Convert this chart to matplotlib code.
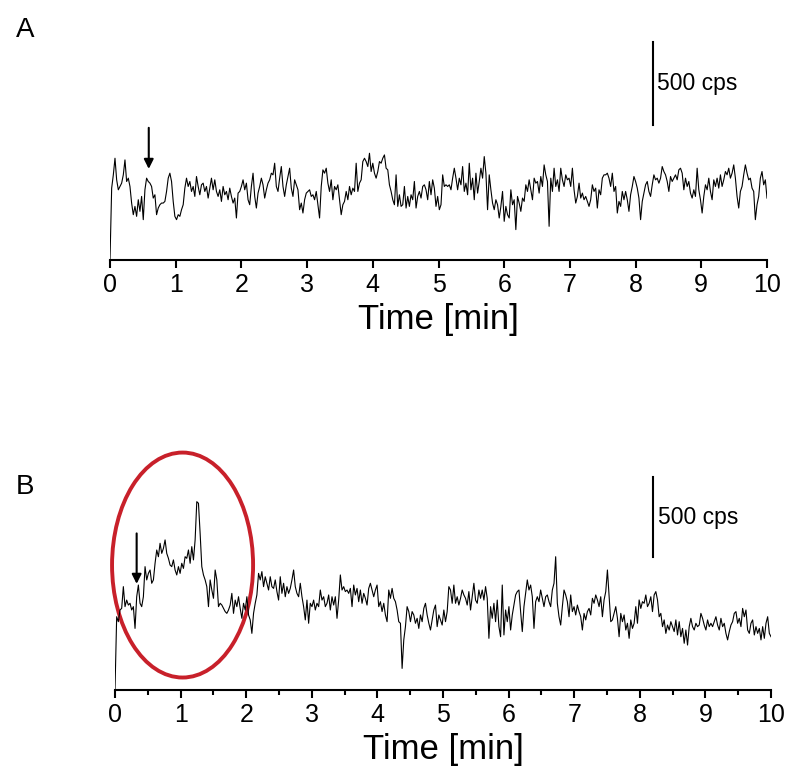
import numpy as np
import matplotlib
matplotlib.use("Agg")
import matplotlib.pyplot as plt
from matplotlib.patches import Ellipse
from matplotlib.ticker import MultipleLocator

plt.rcParams['font.family'] = ['Liberation Sans', 'DejaVu Sans']

# trace A (cps), 0 -> 10 min
a_cps = [0,
    433, 513, 613, 483, 423, 443, 463, 513, 603, 473, 493, 443, 343, 273, 323, 263, 363, 293, 383, 243,
    423, 493, 473, 463, 443, 373, 393, 273, 313, 333, 343, 343, 353, 413, 493, 523, 473, 353, 263, 243,
    273, 263, 303, 333, 433, 493, 443, 473, 413, 443, 383, 503, 443, 393, 453, 463, 413, 443, 373, 433,
    493, 423, 483, 413, 383, 423, 353, 443, 393, 413, 363, 433, 383, 343, 373, 253, 403, 413, 443, 483,
    423, 463, 363, 333, 443, 523, 383, 313, 403, 443, 493, 453, 373, 423, 463, 483, 523, 513, 583, 443,
    413, 493, 563, 443, 383, 453, 503, 553, 433, 383, 483, 453, 423, 303, 343, 283, 363, 403, 413, 423,
    383, 393, 363, 413, 333, 253, 443, 543, 523, 553, 463, 413,
    483, 363, 443, 423, 453, 363, 273, 333, 353, 413, 363, 443, 393, 433, 413, 583, 413, 463, 483, 593,
    613, 593, 563, 643, 533, 583, 523, 493, 533, 593, 583, 613, 633, 553, 543, 453, 413, 363, 333, 513,
    323, 393, 323, 333, 443, 313, 383, 323, 393, 363, 473, 313, 383, 413, 373, 443, 453, 423, 363, 473,
    393, 483, 433, 323, 383, 303, 333, 513, 443, 453, 443, 453, 423, 493, 553, 493, 423, 493, 453, 563,
    413, 463, 393, 583, 423, 493, 363, 523, 403, 473, 553, 493, 623, 523, 303, 513, 423, 343, 303, 363,
    333, 253, 323, 413, 233, 323, 273, 253, 423, 333, 363, 183, 383, 343, 293, 373, 353, 453, 413, 483,
    423, 363, 493, 463, 473, 403, 503, 443, 573, 513, 473, 203,
    493, 413, 553, 443, 483, 413, 553, 483, 443, 513, 483, 493, 443, 553, 423, 343, 383, 463, 373, 403,
    363, 383, 353, 323, 363, 453, 413, 433, 313, 423, 393, 493, 513, 513, 523, 493, 443, 523, 413, 443,
    283, 353, 323, 413, 363, 413, 363, 293, 393, 443, 503, 473, 433, 373, 243, 353, 403, 453, 473, 413,
    383, 453, 513, 483, 493, 463, 493, 563, 533, 513, 473, 413, 503, 473, 493, 513, 483, 543, 553, 523,
    423, 493, 443, 473, 403, 373, 423, 383, 553, 423, 363, 283, 383, 453, 423, 493, 413, 363, 483, 443,
    493, 433, 513, 443, 483, 533, 513, 553, 493, 523, 573, 493, 383, 313, 413, 443, 513, 573, 523, 483,
    493, 433, 413, 243, 333, 383, 493, 533, 453, 483, 373]

# trace B (cps), 0 -> 10 min
b_cps = [0, 458,
    427, 500, 510, 646, 521, 562, 531, 542, 500, 521, 385, 583, 656, 542, 521, 583, 771, 688, 729, 750,
    667, 688, 792, 875, 833, 917, 854, 885, 938, 854, 823, 781, 771, 813, 750, 719, 771, 729, 792, 760,
    833, 823, 875, 792, 896, 813, 938, 1177, 1167, 979, 771, 719, 688, 646, 521, 688, 625, 573, 750, 688,
    521, 542, 531, 510, 490, 479, 500, 531, 604, 479, 562, 521, 583, 510, 448, 542, 500, 583, 469, 438,
    354, 479, 542, 594, 729, 688, 740, 646, 708, 667, 625, 708, 646, 635, 688, 615, 562, 708, 604, 667,
    583, 646, 604, 635, 688, 750, 646, 604, 583, 667, 583, 521, 438, 562, 417, 542, 521, 562, 500, 542,
    521, 625, 562, 583, 521, 542, 594, 500,
    583, 531, 583, 448, 562, 719, 625, 646, 615, 625, 604, 635, 521, 656, 594, 635, 552, 625, 542, 604,
    573, 531, 635, 667, 625, 583, 625, 656, 521, 552, 490, 542, 469, 427, 625, 573, 635, 573, 552, 500,
    427, 417, 135, 313, 396, 521, 490, 427, 490, 469, 417, 448, 385, 469, 427, 510, 542, 469, 417, 375,
    438, 500, 531, 396, 469, 438, 406, 500, 427, 490, 646, 625, 542, 656, 542, 583, 531, 573, 625, 594,
    573, 531, 615, 500, 583, 667, 562, 542, 625, 573, 625, 562, 646, 573, 323, 521, 448, 542, 427, 562,
    396, 333, 656, 344, 500, 427, 521, 375, 469, 531, 594, 615, 625, 490, 365, 521, 604, 688, 625, 656,
    583, 385, 552, 583, 552, 625, 573, 521, 583, 594, 552, 521,
    625, 667, 833, 542, 458, 406, 521, 625, 594, 552, 458, 594, 490, 521, 469, 531, 490, 458, 375, 479,
    438, 490, 510, 469, 573, 542, 594, 563, 521, 583, 458, 563, 615, 750, 583, 427, 438, 479, 521, 448,
    333, 479, 427, 469, 375, 417, 323, 438, 385, 417, 521, 417, 563, 510, 552, 542, 594, 521, 542, 583,
    490, 594, 615, 563, 458, 479, 396, 438, 354, 406, 375, 427, 396, 365, 438, 344, 427, 333, 385, 292,
    375, 281, 396, 448, 396, 375, 417, 396, 406, 479, 448, 406, 375, 438, 396, 417, 396, 427, 458, 406,
    375, 448, 396, 417, 354, 313, 365, 406, 427, 479, 490, 417, 448, 396, 510, 458, 500, 375, 354, 417,
    438, 344, 396, 354, 385, 313, 396, 323, 417, 458, 354, 333]

ticks = list(range(0, 11))
tick_labels = [str(t) for t in ticks]

a_time = np.linspace(0, 10, len(a_cps))
b_time = np.linspace(0, 10, len(b_cps))

W, H = 786, 769
fig = plt.figure(figsize=(W / 100, H / 100), dpi=100)


def px_rect(left, right, bottom, top):
    return [left / W, 1 - bottom / H, (right - left) / W, (bottom - top) / H]


def style_axis(ax, minor):
    for s in ['left', 'top', 'right']:
        ax.spines[s].set_visible(False)
    ax.spines['bottom'].set_linewidth(1.5)
    ax.set_yticks([])
    ax.set_xlim(0, 10)
    ax.set_xticks(ticks)
    ax.set_xticklabels(tick_labels, fontsize=18)
    ax.tick_params(axis='x', which='major', direction='out', length=6, width=1.5, pad=3)
    if minor:
        ax.xaxis.set_minor_locator(MultipleLocator(0.5))
        ax.tick_params(axis='x', which='minor', direction='out', length=3.5, width=1.5)
    ax.set_xlabel('Time [min]', fontsize=25, labelpad=5)


# panel A: 500 cps = 83 px
axA = fig.add_axes(px_rect(110, 767, 260, 30))
axA.plot(a_time, a_cps, color='black', lw=0.8)
axA.set_ylim(0, 230 / 83 * 500)
style_axis(axA, minor=False)
axA.plot([8.27, 8.27], [813, 1313], color='black', lw=1.5)
axA.text(8.33, 1063, '500 cps', fontsize=16.5, va='center', ha='left')
axA.annotate('', xy=(0.59, 532), xytext=(0.59, 813),
             arrowprops=dict(arrowstyle='-|>', color='black', lw=1.5, mutation_scale=14))

# panel B: 500 cps = 80 px
axB = fig.add_axes(px_rect(115, 771, 690, 440))
axB.plot(b_time, b_cps, color='black', lw=0.8)
axB.set_ylim(0, 250 / 80 * 500)
style_axis(axB, minor=True)
axB.plot([8.2, 8.2], [831, 1331], color='black', lw=1.5)
axB.text(8.27, 1081, '500 cps', fontsize=16.5, va='center', ha='left')
axB.annotate('', xy=(0.33, 646), xytext=(0.33, 996),
             arrowprops=dict(arrowstyle='-|>', color='black', lw=1.5, mutation_scale=14))
axB.add_patch(Ellipse((1.03, 781), 2.15, 1406, fill=False, edgecolor='#c8202a',
                      lw=2.8, clip_on=False))

fig.text(25 / W, 1 - 30 / H, 'A', fontsize=20, ha='center', va='center')
fig.text(25 / W, 1 - 487 / H, 'B', fontsize=20, ha='center', va='center')

fig.savefig('out.png', dpi=100)
